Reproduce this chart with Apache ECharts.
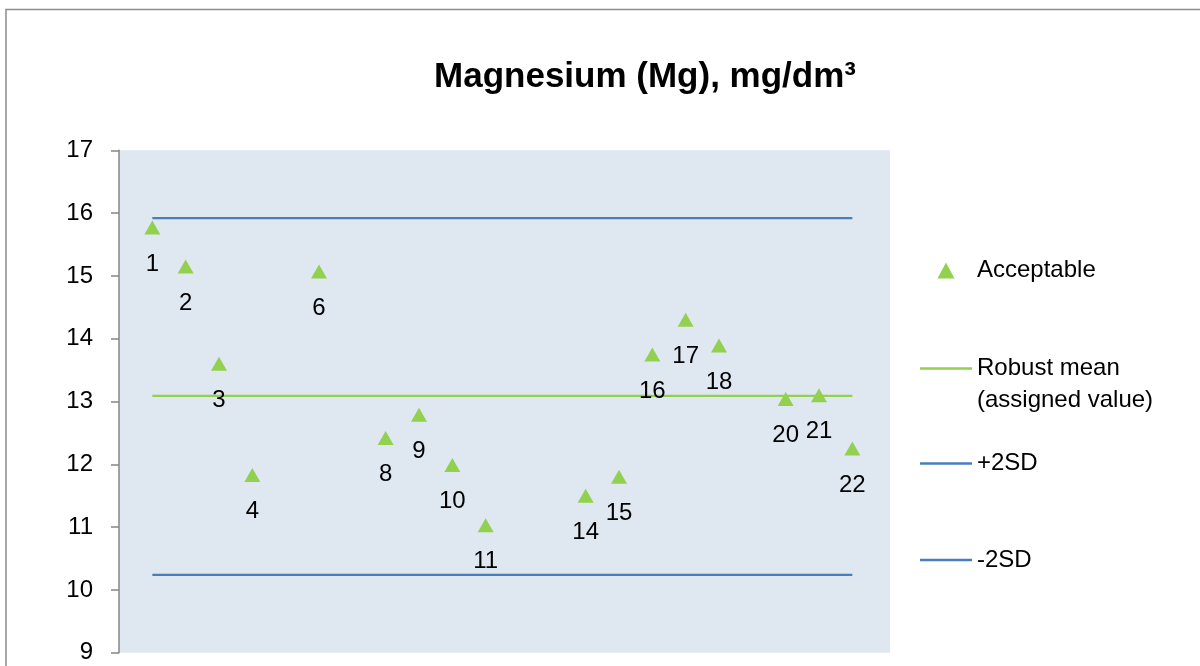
<!DOCTYPE html>
<html>
<head>
<meta charset="utf-8">
<title>Magnesium (Mg), mg/dm³</title>
<script src="https://cdn.jsdelivr.net/npm/echarts@6/dist/echarts.min.js"></script>
<style>
  html, body { margin: 0; padding: 0; background: #fff; }
  #chart { width: 1200px; height: 666px; }
</style>
</head>
<body>
<div id="chart"></div>
<script>
// participant codes and their Mg results
const participants = [1, 2, 3, 4, 6, 8, 9, 10, 11, 14, 15, 16, 17, 18, 20, 21, 22]
const results = [15.77, 15.15, 13.60, 11.83, 15.07, 12.42, 12.79, 11.99, 11.03, 11.50, 11.80, 13.75, 14.30, 13.89, 13.04, 13.10, 12.25]

// reference lines
const robustMean = 13.09
const plus2SD = 15.92
const minus2SD = 10.24

// y axis ticks
const yMin = 9
const yMax = 17
const yStep = 1

const font = 'Liberation Sans'
const green = '#92d050'
const blue = '#4a7ebb'

const refLine = (v) => participants.map(p => [p, v])

const chart = echarts.init(document.getElementById('chart'))

const textBase = { fontFamily: font, fontSize: 24, color: '#000' }

// line legends: plain stroke as icon, text 5px after it
const lineLegend = (name, top, color, extra) => Object.assign({
  left: 920,
  top: top,
  orient: 'vertical',
  padding: 0,
  itemWidth: 52,
  itemHeight: 2.5,
  selectedMode: false,
  data: [{ name: name, icon: 'rect', itemStyle: { color: color } }],
  textStyle: textBase
}, extra || {})

chart.setOption({
  animation: false,
  title: {
    text: 'Magnesium (Mg), mg/dm³',
    left: 640,
    top: 55,
    textAlign: 'center',
    textStyle: { fontFamily: font, fontSize: 35, fontWeight: 'bold', color: '#000' }
  },
  graphic: [{
    type: 'rect',
    shape: { x: 6, y: 9.5, width: 1300, height: 700 },
    style: { fill: 'none', stroke: '#8c8c8c', lineWidth: 1.5 },
    silent: true
  }],
  legend: [
    {
      left: 937.5,
      top: 258.5,
      orient: 'vertical',
      padding: 0,
      itemWidth: 17,
      itemHeight: 16,
      selectedMode: false,
      data: [{ name: 'Acceptable', icon: 'triangle' }],
      textStyle: Object.assign({}, textBase, { padding: [0, 0, 0, 17.5] })
    },
    lineLegend('Robust mean', 320.5, green, {
      formatter: () => '\nRobust mean\n(assigned value)',
      textStyle: Object.assign({}, textBase, { lineHeight: 32 })
    }),
    lineLegend('+2SD', 451.5, blue),
    lineLegend('-2SD', 548, blue)
  ],
  grid: {
    left: 119,
    top: 150.3,
    width: 771,
    height: 502.4,
    show: true,
    backgroundColor: '#dfe7f1',
    borderWidth: 0
  },
  xAxis: {
    type: 'value',
    min: 0,
    max: 23.13,
    show: false
  },
  yAxis: {
    type: 'value',
    min: yMin,
    max: yMax,
    interval: yStep,
    axisLine: { show: true, lineStyle: { color: '#868686', width: 1.5 } },
    axisTick: { show: true, length: 8, lineStyle: { color: '#868686', width: 1.5 } },
    axisLabel: Object.assign({ margin: 26 }, textBase),
    splitLine: { show: false }
  },
  series: [
    {
      name: 'Acceptable',
      type: 'scatter',
      symbol: 'triangle',
      symbolSize: [16, 14],
      itemStyle: { color: green, opacity: 1 },
      data: participants.map((p, i) => [p, results[i]]),
      label: Object.assign({
        show: true,
        position: 'inside',
        offset: [0, 36.5],
        formatter: (d) => String(d.value[0]),
        textBorderWidth: 0
      }, textBase),
      z: 5
    },
    {
      name: 'Robust mean',
      type: 'line',
      symbol: 'none',
      lineStyle: { color: green, width: 2.25 },
      itemStyle: { color: green },
      data: refLine(robustMean),
      z: 3
    },
    {
      name: '+2SD',
      type: 'line',
      symbol: 'none',
      lineStyle: { color: blue, width: 2.25 },
      itemStyle: { color: blue },
      data: refLine(plus2SD),
      z: 3
    },
    {
      name: '-2SD',
      type: 'line',
      symbol: 'none',
      lineStyle: { color: blue, width: 2.25 },
      itemStyle: { color: blue },
      data: refLine(minus2SD),
      z: 3
    }
  ]
})
</script>
</body>
</html>
